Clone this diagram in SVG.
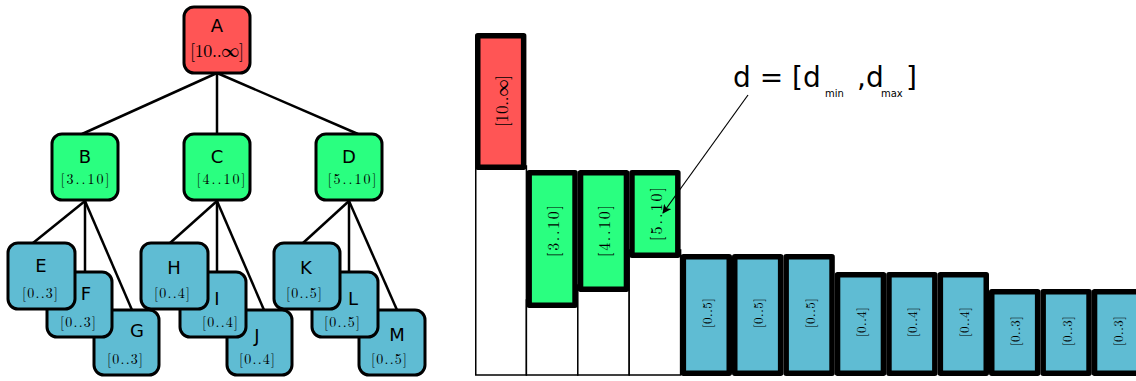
<svg xmlns="http://www.w3.org/2000/svg" width="1136" height="381" viewBox="0 0 1136 381">
  <style>
    .node { stroke: #000; stroke-width: 3; }
    .red { fill: #ff5555; }
    .green { fill: #2aff80; }
    .blue { fill: #5fbcd3; }
    .edge { stroke: #000; stroke-width: 2.5; fill: none; }
    .lbl { font-family: "DejaVu Sans", sans-serif; font-size: 18px; text-anchor: middle; fill: #000; }
    .iv { font-family: "Latin Modern Roman", "Liberation Serif", serif; text-anchor: middle; fill: #000; }
    .bar { stroke: #000; stroke-width: 5.5; stroke-linejoin: round; }
    .slot { fill: #fff; stroke: #000; stroke-width: 1.5; }
    .vt { font-family: "Latin Modern Roman", "Liberation Serif", serif; text-anchor: middle; dominant-baseline: central; fill: #000; }
    .note { font-family: "DejaVu Sans", sans-serif; fill: #000; }
  </style>
  <defs>
    <marker id="arrow" viewBox="0 0 10 10" refX="9" refY="5" markerWidth="9" markerHeight="9" markerUnits="userSpaceOnUse" orient="auto">
      <path d="M0,0 L10,5 L0,10 L2.5,5 z" fill="#000"/>
    </marker>
  </defs>

  <!-- tree edges -->
  <g id="edges">
    <line class="edge" x1="217" y1="73" x2="82" y2="134"/>
    <line class="edge" x1="217" y1="73" x2="217" y2="134"/>
    <line class="edge" x1="217" y1="73" x2="358" y2="134"/>
    <line class="edge" x1="85" y1="201" x2="33" y2="243"/>
    <line class="edge" x1="85" y1="201" x2="85" y2="272"/>
    <line class="edge" x1="85" y1="201" x2="132" y2="310"/>
    <line class="edge" x1="217" y1="201" x2="170" y2="243"/>
    <line class="edge" x1="217" y1="201" x2="217" y2="272"/>
    <line class="edge" x1="217" y1="201" x2="264" y2="310"/>
    <line class="edge" x1="349" y1="201" x2="303" y2="243"/>
    <line class="edge" x1="349" y1="201" x2="349" y2="272"/>
    <line class="edge" x1="349" y1="201" x2="397" y2="310"/>
  </g>

  <!-- tree nodes -->
  <g id="node-A">
    <rect class="node red" x="184" y="7" width="66" height="66" rx="10"/>
    <text class="lbl" x="217" y="32">A</text>
    <text class="iv" x="217" y="57" font-size="18" textLength="54">[10..∞]</text>
  </g>
  <g id="node-B">
    <rect class="node green" x="52" y="134" width="66" height="66" rx="10"/>
    <text class="lbl" x="85" y="163">B</text>
    <text class="iv" x="85" y="184" font-size="14" textLength="49">[3..10]</text>
  </g>
  <g id="node-C">
    <rect class="node green" x="184" y="134" width="66" height="66" rx="10"/>
    <text class="lbl" x="217" y="163">C</text>
    <text class="iv" x="221" y="184" font-size="14" textLength="49">[4..10]</text>
  </g>
  <g id="node-D">
    <rect class="node green" x="316" y="134" width="66" height="66" rx="10"/>
    <text class="lbl" x="349" y="163">D</text>
    <text class="iv" x="352" y="184" font-size="14" textLength="49">[5..10]</text>
  </g>

  <g id="node-G">
    <rect class="node blue" x="94" y="310" width="65" height="65" rx="10"/>
    <text class="lbl" x="137" y="337">G</text>
    <text class="iv" x="125" y="364" font-size="14" textLength="36">[0..3]</text>
  </g>
  <g id="node-F">
    <rect class="node blue" x="47" y="272" width="65" height="65" rx="10"/>
    <text class="lbl" x="86" y="300">F</text>
    <text class="iv" x="78" y="327" font-size="14" textLength="36">[0..3]</text>
  </g>
  <g id="node-E">
    <rect class="node blue" x="8" y="243" width="67" height="66" rx="10"/>
    <text class="lbl" x="41" y="272">E</text>
    <text class="iv" x="40" y="298" font-size="14" textLength="36">[0..3]</text>
  </g>

  <g id="node-J">
    <rect class="node blue" x="227" y="310" width="65" height="65" rx="10"/>
    <text class="lbl" x="257" y="342">J</text>
    <text class="iv" x="257" y="364" font-size="14" textLength="36">[0..4]</text>
  </g>
  <g id="node-I">
    <rect class="node blue" x="180" y="272" width="66" height="65" rx="10"/>
    <text class="lbl" x="217" y="305">I</text>
    <text class="iv" x="220" y="327" font-size="14" textLength="36">[0..4]</text>
  </g>
  <g id="node-H">
    <rect class="node blue" x="141" y="243" width="67" height="66" rx="10"/>
    <text class="lbl" x="174" y="274">H</text>
    <text class="iv" x="172" y="298" font-size="14" textLength="36">[0..4]</text>
  </g>

  <g id="node-M">
    <rect class="node blue" x="359" y="310" width="66" height="65" rx="10"/>
    <text class="lbl" x="397" y="341">M</text>
    <text class="iv" x="389" y="364" font-size="14" textLength="36">[0..5]</text>
  </g>
  <g id="node-L">
    <rect class="node blue" x="312" y="272" width="66" height="65" rx="10"/>
    <text class="lbl" x="353" y="305">L</text>
    <text class="iv" x="342" y="327" font-size="14" textLength="36">[0..5]</text>
  </g>
  <g id="node-K">
    <rect class="node blue" x="274" y="243" width="66" height="66" rx="10"/>
    <text class="lbl" x="306" y="274">K</text>
    <text class="iv" x="304" y="298" font-size="14" textLength="36">[0..5]</text>
  </g>

  <!-- empty slots below the first four bars -->
  <g id="slots">
    <rect class="slot" x="475.75" y="166" width="50.65" height="209"/>
    <rect class="slot" x="526.4" y="300" width="51.4" height="75"/>
    <rect class="slot" x="577.8" y="285" width="51.4" height="90"/>
    <rect class="slot" x="629.2" y="250" width="51.4" height="125"/>
  </g>

  <!-- interval bars -->
  <g id="bar-A">
    <rect class="bar red" x="477.75" y="35.75" width="45.9" height="131.5"/>
    <text class="vt" transform="translate(501,101) rotate(-90)" font-size="17" textLength="52">[10..∞]</text>
  </g>
  <g id="bar-B">
    <rect class="bar green" x="529.15" y="172.75" width="45.9" height="132.5"/>
    <text class="vt" transform="translate(552,231) rotate(-90)" font-size="16" textLength="52">[3..10]</text>
  </g>
  <g id="bar-C">
    <rect class="bar green" x="580.55" y="172.75" width="45.9" height="116.5"/>
    <text class="vt" transform="translate(603.5,231) rotate(-90)" font-size="16" textLength="52">[4..10]</text>
  </g>
  <g id="bar-D">
    <rect class="bar green" x="631.95" y="172.75" width="45.9" height="82.5"/>
    <text class="vt" transform="translate(655,214) rotate(-90)" font-size="16" textLength="54">[5..10]</text>
  </g>

  <g id="bar-K">
    <rect class="bar blue" x="683.35" y="256.75" width="45.9" height="116.5"/>
    <text class="vt" transform="translate(706.3,313) rotate(-90)" font-size="13" textLength="30">[0..5]</text>
  </g>
  <g id="bar-L">
    <rect class="bar blue" x="734.75" y="256.75" width="45.9" height="116.5"/>
    <text class="vt" transform="translate(757.7,313) rotate(-90)" font-size="13" textLength="30">[0..5]</text>
  </g>
  <g id="bar-M">
    <rect class="bar blue" x="786.15" y="256.75" width="45.9" height="116.5"/>
    <text class="vt" transform="translate(809.1,313) rotate(-90)" font-size="13" textLength="30">[0..5]</text>
  </g>
  <g id="bar-H">
    <rect class="bar blue" x="837.55" y="274.75" width="45.9" height="98.5"/>
    <text class="vt" transform="translate(860.5,322) rotate(-90)" font-size="13" textLength="30">[0..4]</text>
  </g>
  <g id="bar-I">
    <rect class="bar blue" x="888.95" y="274.75" width="45.9" height="98.5"/>
    <text class="vt" transform="translate(911.9,322) rotate(-90)" font-size="13" textLength="30">[0..4]</text>
  </g>
  <g id="bar-J">
    <rect class="bar blue" x="940.35" y="274.75" width="45.9" height="98.5"/>
    <text class="vt" transform="translate(963.3,322) rotate(-90)" font-size="13" textLength="30">[0..4]</text>
  </g>
  <g id="bar-E">
    <rect class="bar blue" x="991.75" y="291.75" width="45.9" height="81.5"/>
    <text class="vt" transform="translate(1014.7,331) rotate(-90)" font-size="13" textLength="30">[0..3]</text>
  </g>
  <g id="bar-F">
    <rect class="bar blue" x="1043.15" y="291.75" width="45.9" height="81.5"/>
    <text class="vt" transform="translate(1066.1,331) rotate(-90)" font-size="13" textLength="30">[0..3]</text>
  </g>
  <g id="bar-G">
    <rect class="bar blue" x="1094.55" y="291.75" width="45.9" height="81.5"/>
    <text class="vt" transform="translate(1117.5,331) rotate(-90)" font-size="13" textLength="30">[0..3]</text>
  </g>

  <!-- interval notation callout -->
  <g id="note">
    <text class="note" font-size="28"><tspan x="733" y="87">d = [d</tspan><tspan x="825" y="97" font-size="10">min</tspan><tspan x="857" y="87">,d</tspan><tspan x="881" y="97" font-size="10">max</tspan><tspan x="906" y="87">]</tspan></text>
    <line x1="748" y1="95" x2="663" y2="213" stroke="#000" stroke-width="1.2" marker-end="url(#arrow)"/>
  </g>
</svg>
